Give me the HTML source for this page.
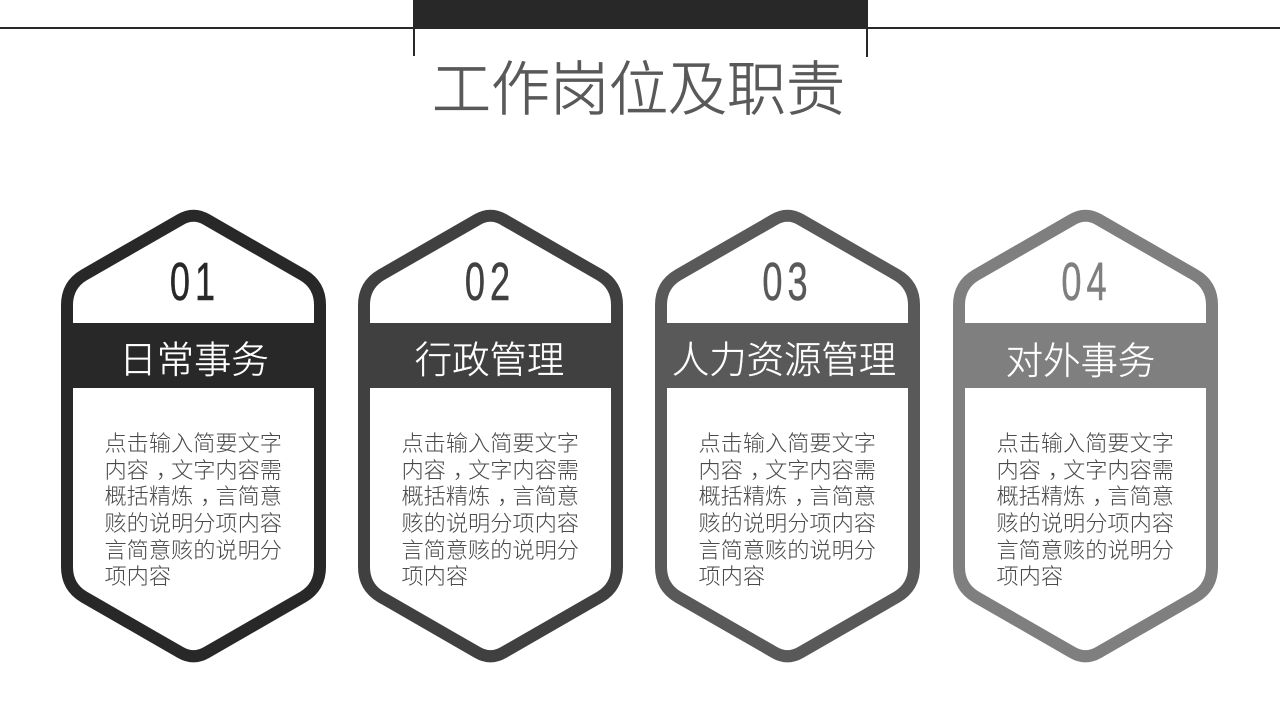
<!DOCTYPE html>
<html><head><meta charset="utf-8"><style>
html,body{margin:0;padding:0;background:#fff}
svg{display:block}
text{font-family:"Liberation Sans","Noto Sans CJK SC",sans-serif}
.t{font-weight:300;font-size:59px;fill:#595959;stroke:#595959;stroke-width:.7px}
.h{font-weight:300;font-size:37.4px;fill:#fff;text-anchor:middle;stroke:#fff;stroke-width:.3px}
.b{font-weight:300;font-size:22.2px;fill:#4a4a4a}
.n{font-size:54px;text-anchor:middle;letter-spacing:7.5px;font-family:"Liberation Sans",sans-serif;stroke-width:.5px}
</style></head><body>
<svg width="1280" height="720" viewBox="0 0 1280 720" xmlns="http://www.w3.org/2000/svg">
<rect width="1280" height="720" fill="#fff"/>
<rect x="0" y="27" width="1280" height="2" fill="#282828"/>
<rect x="413" y="0" width="455" height="28" fill="#282828"/>
<rect x="413" y="28" width="2" height="28" fill="#282828"/>
<rect x="866" y="28" width="2" height="29" fill="#282828"/>
<text class="t" x="432" y="110">工作岗位及职责</text>

<g fill="#282828">
<path d="M180.5 219.500Q193.500 212 206.500 219.500L303 275Q320 285 320 305V567Q320 587 303 597L206.500 652.500Q193.500 660 180.500 652.500L84 597Q67 587 67 567V305Q67 285 84 275Z" fill="#fff" stroke="#282828" stroke-width="12" stroke-linejoin="round"/>
<rect x="67" y="323" width="253" height="65"/>
<text class="n" stroke="#282828" transform="translate(195 300) scale(.67 1)">01</text>
<text class="h" x="194" y="373">日常事务</text>
<text class="b" x="104.500" y="451">点击输入简要文字</text>
<text class="b" x="104.500" y="478">内容<tspan dx="7">，</tspan><tspan dx="-7">文字内容需</tspan></text>
<text class="b" x="104.500" y="504">概括精炼<tspan dx="7">，</tspan><tspan dx="-7">言简意</tspan></text>
<text class="b" x="104.500" y="531">赅的说明分项内容</text>
<text class="b" x="104.500" y="558">言简意赅的说明分</text>
<text class="b" x="104.500" y="584">项内容</text>
</g>

<g transform="translate(297 0)" fill="#404040">
<path d="M180.5 219.500Q193.500 212 206.500 219.500L303 275Q320 285 320 305V567Q320 587 303 597L206.500 652.500Q193.500 660 180.500 652.500L84 597Q67 587 67 567V305Q67 285 84 275Z" fill="#fff" stroke="#404040" stroke-width="12" stroke-linejoin="round"/>
<rect x="67" y="323" width="253" height="65"/>
<text class="n" stroke="#404040" transform="translate(193 300) scale(.67 1)">02</text>
<text class="h" x="192.500" y="373">行政管理</text>
<text class="b" x="104.500" y="451">点击输入简要文字</text>
<text class="b" x="104.500" y="478">内容<tspan dx="7">，</tspan><tspan dx="-7">文字内容需</tspan></text>
<text class="b" x="104.500" y="504">概括精炼<tspan dx="7">，</tspan><tspan dx="-7">言简意</tspan></text>
<text class="b" x="104.500" y="531">赅的说明分项内容</text>
<text class="b" x="104.500" y="558">言简意赅的说明分</text>
<text class="b" x="104.500" y="584">项内容</text>
</g>

<g transform="translate(594 0)" fill="#595959">
<path d="M180.5 219.500Q193.500 212 206.500 219.500L303 275Q320 285 320 305V567Q320 587 303 597L206.500 652.500Q193.500 660 180.500 652.500L84 597Q67 587 67 567V305Q67 285 84 275Z" fill="#fff" stroke="#595959" stroke-width="12" stroke-linejoin="round"/>
<rect x="67" y="323" width="253" height="65"/>
<text class="n" stroke="#595959" transform="translate(193.500 300) scale(.67 1)">03</text>
<text class="h" x="190" y="373">人力资源管理</text>
<text class="b" x="104.500" y="451">点击输入简要文字</text>
<text class="b" x="104.500" y="478">内容<tspan dx="7">，</tspan><tspan dx="-7">文字内容需</tspan></text>
<text class="b" x="104.500" y="504">概括精炼<tspan dx="7">，</tspan><tspan dx="-7">言简意</tspan></text>
<text class="b" x="104.500" y="531">赅的说明分项内容</text>
<text class="b" x="104.500" y="558">言简意赅的说明分</text>
<text class="b" x="104.500" y="584">项内容</text>
</g>

<g transform="translate(892 0)" fill="#7f7f7f">
<path d="M180.5 219.500Q193.500 212 206.500 219.500L303 275Q320 285 320 305V567Q320 587 303 597L206.500 652.500Q193.500 660 180.500 652.500L84 597Q67 587 67 567V305Q67 285 84 275Z" fill="#fff" stroke="#7f7f7f" stroke-width="12" stroke-linejoin="round"/>
<rect x="67" y="323" width="253" height="65"/>
<text class="n" stroke="#7f7f7f" transform="translate(194.500 300) scale(.67 1)">04</text>
<text class="h" x="188.500" y="374">对外事务</text>
<text class="b" x="104.500" y="451">点击输入简要文字</text>
<text class="b" x="104.500" y="478">内容<tspan dx="7">，</tspan><tspan dx="-7">文字内容需</tspan></text>
<text class="b" x="104.500" y="504">概括精炼<tspan dx="7">，</tspan><tspan dx="-7">言简意</tspan></text>
<text class="b" x="104.500" y="531">赅的说明分项内容</text>
<text class="b" x="104.500" y="558">言简意赅的说明分</text>
<text class="b" x="104.500" y="584">项内容</text>
</g>
</svg>
</body></html>
